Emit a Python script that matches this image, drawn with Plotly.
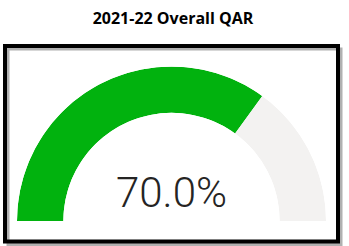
import plotly.graph_objects as go

title_text = "2021-22 Overall QAR"
value = 70.0
max_value = 100.0
colors = ["#01B20E", "#F3F2F1"]

W, H = 349, 246

segments = [value, max_value - value]
starts = [0.0, value]
deg_per_unit = 180.0 / max_value
theta = [(s + v / 2) * deg_per_unit for s, v in zip(starts, segments)]
width = [v * deg_per_unit for v in segments]

fig = go.Figure()
fig.add_trace(go.Barpolar(
    r=[1, 1], theta=theta, width=width,
    marker=dict(color=colors, line=dict(width=0)),
    hoverinfo="skip", showlegend=False,
))

cx, cy, R = 171.5, 221.0, 154.5
fig.update_layout(
    width=W, height=H,
    margin=dict(l=0, r=0, t=0, b=0),
    paper_bgcolor="white",
    plot_bgcolor="white",
    title=dict(text="<b>" + title_text + "</b>", x=173 / W, xanchor="center",
               y=1 - 18 / H, yanchor="middle",
               font=dict(family="Open Sans", size=16, color="#000000")),
    polar=dict(
        domain=dict(x=[(cx - R) / W, (cx + R) / W], y=[(H - cy) / H, (H - cy + R) / H]),
        sector=[0, 180],
        hole=0.70,
        bgcolor="rgba(0,0,0,0)",
        angularaxis=dict(direction="clockwise", rotation=180, visible=False,
                         thetaunit="degrees"),
        radialaxis=dict(range=[0, 1], visible=False),
        bargap=0,
    ),
    shapes=[
        dict(type="rect", xref="paper", yref="paper",
             x0=8 / W, x1=341 / W, y0=(H - 244.5) / H, y1=(H - 49) / H,
             line=dict(color="#B0B0B0", width=3), fillcolor="rgba(0,0,0,0)", layer="below"),
        dict(type="rect", xref="paper", yref="paper",
             x0=5 / W, x1=338 / W, y0=(H - 241.5) / H, y1=(H - 46) / H,
             line=dict(color="#000000", width=4), fillcolor="rgba(0,0,0,0)"),
    ],
    annotations=[
        dict(text=f"{value:.1f}%", xref="paper", yref="paper",
             x=171 / W, y=(H - 192) / H, xanchor="center", yanchor="middle",
             showarrow=False,
             font=dict(family="Roboto", size=42, color="#252423", weight=300)),
    ],
)

fig.write_html("out.html")
